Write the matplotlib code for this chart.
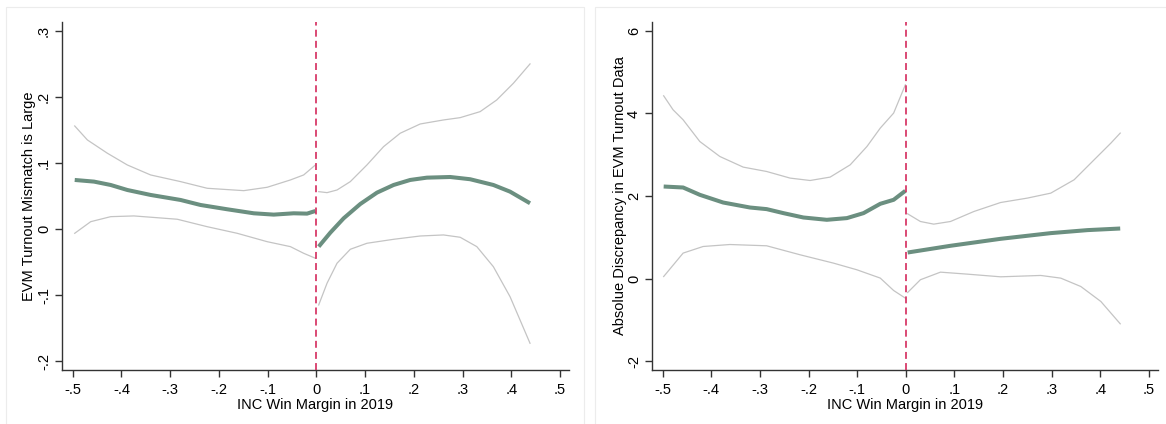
import matplotlib
matplotlib.use("Agg")
import matplotlib.pyplot as plt
from matplotlib.patches import Rectangle

plt.rcParams['font.family'] = ['Liberation Sans', 'DejaVu Sans']
plt.rcParams['lines.scale_dashes'] = False

# --- panel 1: EVM turnout mismatch is large ---
m_left_x = [-0.4959, -0.4563, -0.4221, -0.3879, -0.3402, -0.2787, -0.2377, -0.183, -0.1285, -0.0875, -0.0465, -0.0191, -0.002]
m_left_y = [0.0747, 0.0722, 0.0671, 0.0595, 0.052, 0.0444, 0.0368, 0.0303, 0.0242, 0.0222, 0.0242, 0.0237, 0.0277]
m_left_hi_x = [-0.4959, -0.4699, -0.4289, -0.3879, -0.3402, -0.2787, -0.224, -0.149, -0.101, -0.0533, -0.026, -0.002]
m_left_hi = [0.1565, 0.1353, 0.1152, 0.0974, 0.0823, 0.0722, 0.0621, 0.0585, 0.0636, 0.0747, 0.0823, 0.0974]
m_left_lo_x = [-0.4959, -0.4631, -0.4221, -0.3744, -0.2855, -0.224, -0.1625, -0.101, -0.0533, -0.026, -0.002]
m_left_lo = [-0.0061, 0.0115, 0.0191, 0.0202, 0.0152, 0.0039, -0.0061, -0.0188, -0.0263, -0.0364, -0.0439]

m_right_x = [0.0048, 0.0287, 0.056, 0.0902, 0.1244, 0.1585, 0.1926, 0.2268, 0.2746, 0.3156, 0.3633, 0.3975, 0.4385]
m_right_y = [-0.0263, -0.0051, 0.0166, 0.0383, 0.0555, 0.0671, 0.0747, 0.0782, 0.0792, 0.0758, 0.0671, 0.057, 0.0394]
m_right_hi_x = [0.0048, 0.0219, 0.0424, 0.0697, 0.1039, 0.138, 0.1721, 0.2131, 0.2609, 0.2951, 0.3361, 0.3702, 0.4044, 0.4385]
m_right_hi = [0.057, 0.0555, 0.0595, 0.0722, 0.0975, 0.1252, 0.1455, 0.1595, 0.1656, 0.1691, 0.1782, 0.1959, 0.2212, 0.2505]
m_right_lo_x = [0.0048, 0.0219, 0.0424, 0.0697, 0.1039, 0.1585, 0.2131, 0.2609, 0.2951, 0.3293, 0.3633, 0.3975, 0.4385]
m_right_lo = [-0.1147, -0.0818, -0.0515, -0.0303, -0.0212, -0.0152, -0.0102, -0.0086, -0.0121, -0.0263, -0.0567, -0.1021, -0.1727]

# --- panel 2: absolute discrepancy in EVM turnout data ---
d_left_x = [-0.498, -0.458, -0.4237, -0.3757, -0.3206, -0.2862, -0.2519, -0.2107, -0.1625, -0.1212, -0.087, -0.0526, -0.0251, -0.001]
d_left_y = [2.23, 2.206, 2.029, 1.842, 1.721, 1.682, 1.585, 1.479, 1.423, 1.464, 1.585, 1.811, 1.908, 2.126]
d_left_hi_x = [-0.498, -0.4787, -0.458, -0.4237, -0.3825, -0.3344, -0.2862, -0.2381, -0.1969, -0.1557, -0.1144, -0.08, -0.0526, -0.0251, -0.001]
d_left_hi = [4.429, 4.09, 3.847, 3.321, 2.958, 2.7, 2.594, 2.434, 2.376, 2.458, 2.756, 3.2, 3.646, 4.01, 4.696]
d_left_lo_x = [-0.498, -0.458, -0.4169, -0.3619, -0.2862, -0.2175, -0.1489, -0.1006, -0.0526, -0.0251, -0.001]
d_left_lo = [0.048, 0.616, 0.776, 0.824, 0.793, 0.575, 0.373, 0.211, 0.01, -0.291, -0.476]

d_right_x = [0.0037, 0.0918, 0.1948, 0.2979, 0.3736, 0.4408]
d_right_y = [0.63, 0.793, 0.962, 1.1, 1.173, 1.212]
d_right_hi_x = [0.0037, 0.0299, 0.0573, 0.0918, 0.1398, 0.1948, 0.2498, 0.2979, 0.346, 0.3872, 0.4216, 0.4408]
d_right_hi = [1.568, 1.382, 1.318, 1.382, 1.624, 1.842, 1.949, 2.069, 2.393, 2.878, 3.282, 3.525]
d_right_lo_x = [0.0037, 0.0299, 0.0711, 0.1262, 0.1948, 0.2773, 0.3186, 0.3598, 0.401, 0.4408]
d_right_lo = [-0.339, -0.03, 0.154, 0.106, 0.041, 0.074, 0.009, -0.194, -0.557, -1.098]

x_ticks = [-0.5, -0.4, -0.3, -0.2, -0.1, 0, 0.1, 0.2, 0.3, 0.4, 0.5]
x_tick_labels = ['-.5', '-.4', '-.3', '-.2', '-.1', '0', '.1', '.2', '.3', '.4', '.5']
m_ticks = [-0.2, -0.1, 0, 0.1, 0.2, 0.3]
m_tick_labels = ['-.2', '-.1', '0', '.1', '.2', '.3']
d_ticks = [-2, 0, 2, 4, 6]
d_tick_labels = ['-2', '0', '2', '4', '6']

FIT = '#6b8f80'
CI = '#c4c4c4'
CUT = '#d42a5c'

fig = plt.figure(figsize=(11.66, 4.24), dpi=100)

# light frames round each sub-graph
for x0, w in [(6, 578), (595, 580)]:
    fig.patches.append(Rectangle((x0 / 1166, -0.05), w / 1166, (417 + 21) / 424,
                                 transform=fig.transFigure, fill=False,
                                 edgecolor='#ececec', lw=0.8))


def rd_panel(ax, sides, ticks, tick_labels, ylim, ylabel):
    for fx, fy, hx, hy, lx, ly in sides:
        ax.plot(hx, hy, color=CI, lw=0.9, zorder=2)
        ax.plot(lx, ly, color=CI, lw=0.9, zorder=2)
        ax.plot(fx, fy, color=FIT, lw=2.9, zorder=3, solid_capstyle='butt')
    ax.axvline(0, color=CUT, lw=1.2, dashes=(5, 3), zorder=4)
    ax.set_xlim(-0.522, 0.5185)
    ax.set_ylim(*ylim)
    ax.set_xticks(x_ticks)
    ax.set_xticklabels(x_tick_labels)
    ax.set_yticks(ticks)
    ax.set_yticklabels(tick_labels, rotation=90, va='center')
    for s in ['top', 'right']:
        ax.spines[s].set_visible(False)
    for s in ['left', 'bottom']:
        ax.spines[s].set_color('#333333')
        ax.spines[s].set_linewidth(1.0)
    ax.tick_params(length=5, width=1.0, color='#333333', labelsize=10.5)
    ax.tick_params(axis='x', pad=4)
    ax.tick_params(axis='y', pad=3)
    ax.set_xlabel('INC Win Margin in 2019', fontsize=10.5, labelpad=1)
    ax.set_ylabel(ylabel, fontsize=10.5)
    ax.yaxis.label.set_va('center')


ax1 = fig.add_axes([62 / 1166, 54 / 424, 507 / 1166, 348 / 424])
rd_panel(ax1,
         [(m_left_x, m_left_y, m_left_hi_x, m_left_hi, m_left_lo_x, m_left_lo),
          (m_right_x, m_right_y, m_right_hi_x, m_right_hi, m_right_lo_x, m_right_lo)],
         m_ticks, m_tick_labels, (-0.2132, 0.314),
         'EVM Turnout Mismatch is Large')
ax1.yaxis.set_label_coords((29.5 - 62) / 507, 0.5)

ax2 = fig.add_axes([652 / 1166, 54 / 424, 506 / 1166, 348 / 424])
rd_panel(ax2,
         [(d_left_x, d_left_y, d_left_hi_x, d_left_hi, d_left_lo_x, d_left_lo),
          (d_right_x, d_right_y, d_right_hi_x, d_right_hi, d_right_lo_x, d_right_lo)],
         d_ticks, d_tick_labels, (-2.218, 6.218),
         'Absolue Discrepancy in EVM Turnout Data')
ax2.yaxis.set_label_coords((620 - 652) / 506, 0.5)

fig.savefig('out.png', dpi=100)
